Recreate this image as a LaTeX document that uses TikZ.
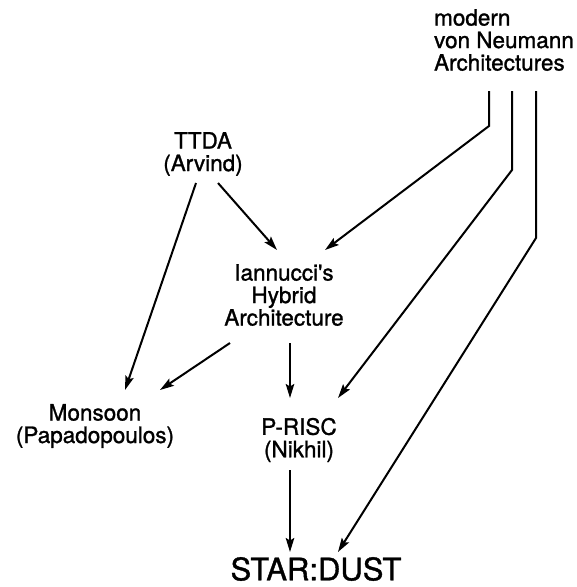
\documentclass[tikz,border=0pt]{standalone}
\usepackage{fontspec}
\setmainfont[FakeBold=1.2]{TeX Gyre Heros}
\usetikzlibrary{arrows.meta,calc}
\tikzset{
  lbl/.style={inner sep=0pt, align=center, font=\fontsize{22.5}{22.5}\selectfont},
  arr/.style={line width=2pt, -{Stealth[length=14pt,width=8.5pt,inset=2.5pt]}},
}
\begin{document}
\begin{tikzpicture}[x=1pt,y=-1pt]
  \useasboundingbox[fill=white] (0,0) rectangle (577,587);
  % labels
  \node[lbl, align=left] (vn) at (504,40) {modern\\von Neumann\\Architectures};
  \node[lbl] (ttda) at (203,154) {TTDA\\(Arvind)};
  \node[lbl] (iann) at (284,295) {Iannucci\textquotesingle s\\Hybrid\\Architecture};
  \node[lbl] (mons) at (95,426) {Monsoon\\(Papadopoulos)};
  \node[lbl] (prisc) at (299,440) {P-RISC\\(Nikhil)};
  \node[lbl, font=\fontsize{31}{31}\selectfont] (star) at (316,569) {STAR:DUST};
  % connectors
  \draw[arr] ($(ttda)+(15,29)$) -- ($(iann)+(-7,-45)$);
  \draw[arr] ($(ttda)+(-7,29)$) -- ($(mons)+(30,-36)$);
  \draw[arr] ($(vn)+(-15,51)$) -- ($(vn)+(-15,86)$) -- ($(iann)+(41,-45)$);
  \draw[arr] ($(iann)+(-54,48)$) -- ($(mons)+(65,-36)$);
  \draw[arr] ($(iann)+(6,48)$) -- ($(prisc)+(-9,-42)$);
  \draw[arr] ($(vn)+(8,51)$) -- ($(vn)+(8,130)$) -- ($(prisc)+(39,-42)$);
  \draw[arr] ($(prisc)+(-9,30)$) -- ($(star)+(-26,-17)$);
  \draw[arr] ($(vn)+(32,51)$) -- ($(vn)+(32,198)$) -- ($(star)+(22,-17)$);
\end{tikzpicture}
\end{document}
